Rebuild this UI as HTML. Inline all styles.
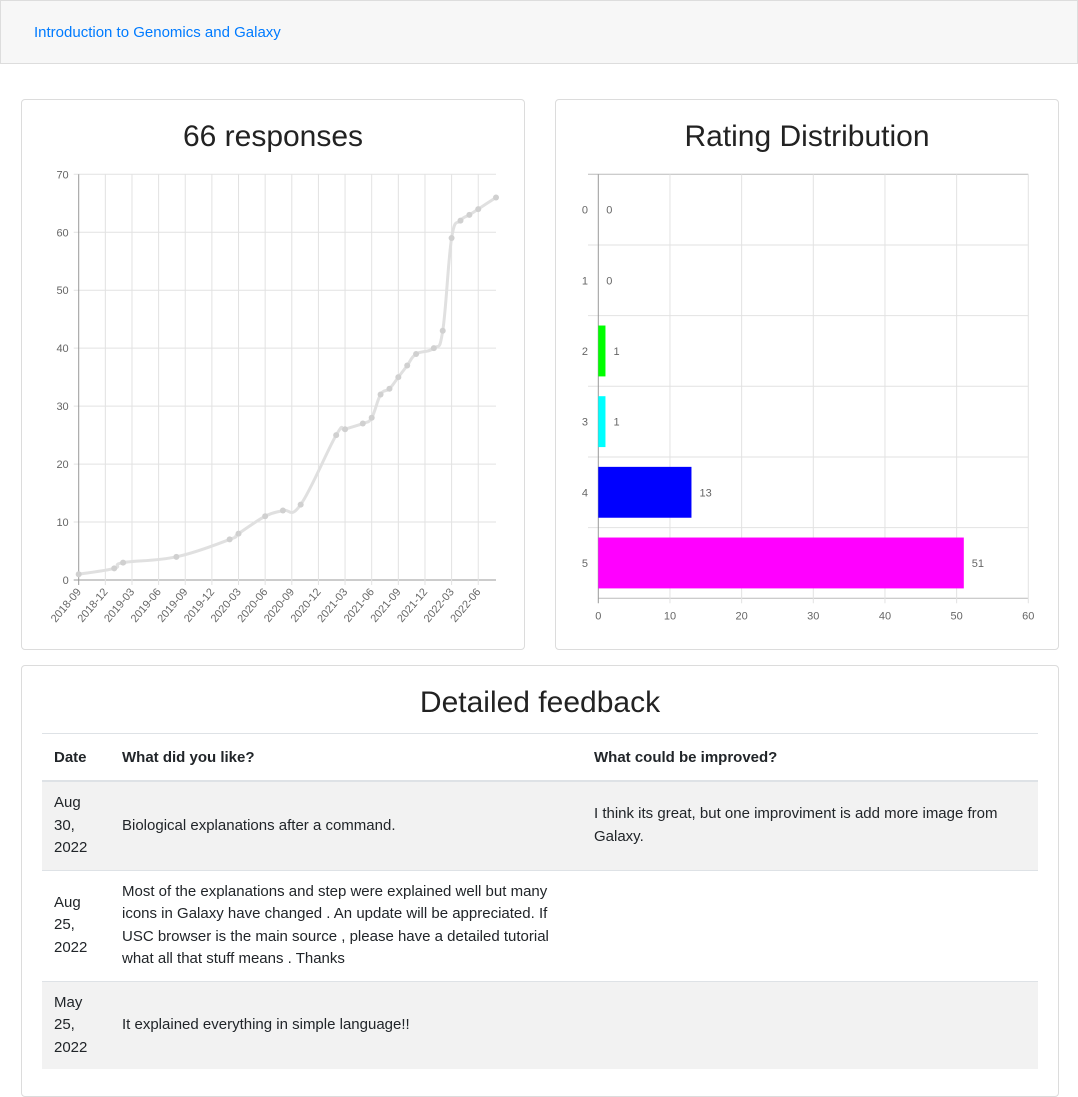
<!DOCTYPE html>
<html><head><meta charset="utf-8">
<style>
body{margin:0;background:#fff;font-family:"Liberation Sans",sans-serif;color:#212529;width:1078px;height:1089px;overflow:hidden;position:relative}
.nav{position:absolute;left:0;top:0;width:1076px;height:62px;background:#f7f7f7;border:1px solid #ddd}
.nav a{position:absolute;left:33px;top:23px;color:#007bff;font-size:15px;text-decoration:none}
.card{position:absolute;border:1px solid #dcdcdc;border-radius:4px;background:#fff}
.title{position:absolute;width:100%;text-align:center;font-size:30px;color:#222}
table{position:absolute;left:20px;top:67px;width:996px;border-collapse:collapse;font-size:15px;border-top:1px solid #dee2e6}
th{text-align:left;font-weight:bold;height:46px;padding:0 12px;border-bottom:2px solid #dee2e6}
td{padding:10px 12px;line-height:22.5px;border-top:1px solid #dee2e6;vertical-align:middle}
tr.g td{background:#f2f2f2}
</style></head><body>
<div class="nav"><a>Introduction to Genomics and Galaxy</a></div>

<div class="card" style="left:21px;top:99px;width:502px;height:549px">
<div class="title" style="top:20px">66 responses</div>
</div>
<div class="card" style="left:555px;top:99px;width:502px;height:549px">
<div class="title" style="top:20px">Rating Distribution</div>
</div>

<svg id="charts" width="1078" height="660" style="position:absolute;left:0;top:0" font-family="Liberation Sans, sans-serif"></svg>

<div class="card" style="left:21px;top:665px;width:1036px;height:430px">
<div class="title" style="top:20px">Detailed feedback</div>
<table>
<tr><th style="width:44px">Date</th><th style="width:448px">What did you like?</th><th>What could be improved?</th></tr>
<tr class="g"><td>Aug 30, 2022</td><td>Biological explanations after a command.</td><td>I think its great, but one improviment is add more image from Galaxy.</td></tr>
<tr><td>Aug 25, 2022</td><td>Most of the explanations and step were explained well but many icons in Galaxy have changed . An update will be appreciated. If USC browser is the main source , please have a detailed tutorial what all that stuff means . Thanks</td><td></td></tr>
<tr class="g"><td>May 25, 2022</td><td>It explained everything in simple language!!</td><td></td></tr>
</table>
</div>

<script>
const months=[0,4,5,11,17,18,21,23,25,29,30,32,33,34,35,36,37,38,40,41,42,43,44,45,47];
const counts=[1,2,3,4,7,8,11,12,13,25,26,27,28,32,33,35,37,39,40,43,59,62,63,64,66];
const xTickLabels=["2018-09","2018-12","2019-03","2019-06","2019-09","2019-12","2020-03","2020-06","2020-09","2020-12","2021-03","2021-06","2021-09","2021-12","2022-03","2022-06"];
const yTicks=[0,10,20,30,40,50,60,70];
const ratings=["0","1","2","3","4","5"];
const ratingCounts=[0,0,1,1,13,51];
const ratingColors=["#f00","#f80","#0f0","#0ff","#00f","#f0f"];
const barTicks=[0,10,20,30,40,50,60];

const svg=document.getElementById('charts');
const NS='http://www.w3.org/2000/svg';
function mk(t,a,p){const e=document.createElementNS(NS,t);for(const k in a)e.setAttribute(k,a[k]);(p||svg).appendChild(e);return e;}
// line chart
const X0=78.7,X1=496,Y0=580,Y1=174.3,MMAX=47;
const lx=m=>X0+m*(X1-X0)/MMAX, ly=v=>Y0-v*(Y0-Y1)/70;
yTicks.forEach(v=>{
 const l=mk('line',{x1:X0-5,x2:X1,y1:ly(v),y2:ly(v),stroke:v?'#e2e2e2':'#999'});
 
 const t=mk('text',{x:X0-10,y:ly(v)+4,'text-anchor':'end','font-size':11,fill:'#666'});t.textContent=v;
 
});
xTickLabels.forEach((s,i)=>{
 const x=lx(i*3);
 const l=mk('line',{x1:x,x2:x,y1:Y1,y2:Y0+5,stroke:i?'#e2e2e2':'#999'});
 
 const t=mk('text',{x:x+3,y:Y0+12,'text-anchor':'end','font-size':11,fill:'#666',transform:`rotate(-50 ${x+3} ${Y0+12})`});t.textContent=s;
 
});
const pts=months.map((m,i)=>[lx(m),ly(counts[i])]);
let d='M'+pts[0];
for(let i=0;i<pts.length-1;i++){const p0=pts[i-1]||pts[i],p1=pts[i],p2=pts[i+1],p3=pts[i+2]||p2,k=0.2;
 d+=`C${p1[0]+(p2[0]-p0[0])*k},${p1[1]+(p2[1]-p0[1])*k} ${p2[0]-(p3[0]-p1[0])*k},${p2[1]-(p3[1]-p1[1])*k} ${p2[0]},${p2[1]}`;}
const path=mk('path',{d:d,fill:'none',stroke:'#e0e0e0','stroke-width':3});

pts.forEach(p=>{const c=mk('circle',{cx:p[0],cy:p[1],r:3,fill:'#d0d0d0'});
 });
// bar chart
const BX0=598.3,BX1=1028.3,BY0=174.3,BY1=598.3,RH=(BY1-BY0)/ratings.length;
const bx=v=>BX0+v*(BX1-BX0)/60;
for(let i=0;i<=ratings.length;i++){const y=BY0+i*RH;
 const l=mk('line',{x1:i==ratings.length?BX0:588,x2:BX1,y1:y,y2:y,stroke:i==ratings.length||i==0?'#bbb':'#e2e2e2'});
 }
barTicks.forEach((v,i)=>{const x=bx(v);
 const l=mk('line',{x1:x,x2:x,y1:BY0,y2:BY1+5,stroke:i?'#e2e2e2':'#999'});
 
 const t=mk('text',{x:x,y:BY1+21,'text-anchor':'middle','font-size':11,fill:'#666'});t.textContent=v;
 });
ratings.forEach((r,i)=>{const yc=BY0+(i+0.5)*RH,h=RH*0.72;
 const t=mk('text',{x:588,y:yc+4,'text-anchor':'end','font-size':11,fill:'#666'});t.textContent=r;
 
 const b=mk('rect',{x:BX0,y:yc-h/2,width:bx(ratingCounts[i])-BX0,height:h,fill:ratingColors[i]});
 
 const v=mk('text',{x:bx(ratingCounts[i])+8,y:yc+4,'font-size':11,fill:'#666'});v.textContent=ratingCounts[i];
 });
</script>
</body></html>
